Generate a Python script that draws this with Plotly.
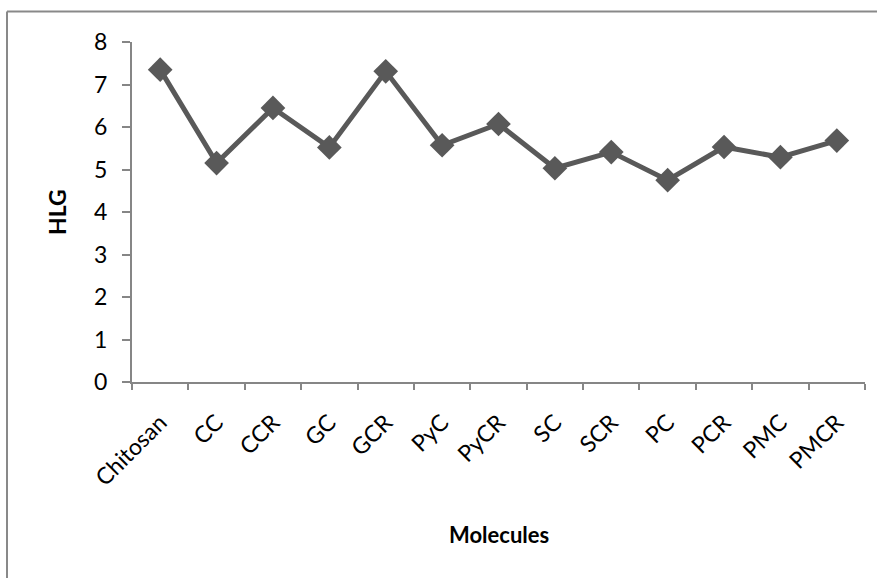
import plotly.graph_objects as go

molecules = ["Chitosan", "CC", "CCR", "GC", "GCR", "PyC", "PyCR", "SC", "SCR", "PC", "PCR", "PMC", "PMCR"]
hlg = [7.35, 5.15, 6.45, 5.52, 7.31, 5.57, 6.07, 5.03, 5.41, 4.75, 5.53, 5.29, 5.68]

W, H = 877, 578
L, R, T, B = 132, 12, 42, 196
pw = W - L - R
ph = H - T - B

axis_col = "#868686"
font_fam = "Lato, 'Open Sans', sans-serif"

fig = go.Figure()
fig.add_trace(go.Scatter(
    x=molecules, y=hlg, mode="lines+markers",
    line=dict(color="#595959", width=5),
    marker=dict(symbol="diamond", size=19, color="#595959"),
    showlegend=False,
))

fig.update_layout(
    width=W, height=H,
    margin=dict(l=L, r=R, t=T, b=B),
    paper_bgcolor="white", plot_bgcolor="white",
    font=dict(family=font_fam, color="black"),
    xaxis=dict(
        type="category", range=[-0.5, len(molecules) - 0.5],
        showline=True, linecolor=axis_col, linewidth=2,
        ticks="outside", tickson="boundaries", ticklen=6, tickcolor=axis_col, tickwidth=2,
        tickangle=-45, tickfont=dict(size=23, family=font_fam),
        ticklabelstandoff=16,
        showgrid=False, zeroline=False,
    ),
    yaxis=dict(
        range=[0, 8], dtick=1,
        showline=True, linecolor=axis_col, linewidth=2,
        ticks="outside", ticklen=8, tickcolor=axis_col, tickwidth=2,
        tickfont=dict(size=23, family=font_fam),
        ticklabelstandoff=10,
        showgrid=False, zeroline=False,
    ),
    annotations=[
        dict(text="<b>Molecules</b>", xref="paper", yref="paper",
             x=0.5, y=(382.5 - 535) / ph, xanchor="center", yanchor="middle",
             showarrow=False, font=dict(size=22, family=font_fam)),
        dict(text="<b>HLG</b>", xref="paper", yref="paper",
             x=(57 - L) / pw, y=0.5, xanchor="center", yanchor="middle",
             showarrow=False, textangle=-90, font=dict(size=23, family=font_fam)),
    ],
    shapes=[
        dict(type="line", xref="paper", yref="paper",
             x0=(7 - L) / pw, x1=(7 - L) / pw, y0=(382.5 - 12) / ph, y1=(382.5 - 590) / ph,
             line=dict(color="#898989", width=2)),
        dict(type="line", xref="paper", yref="paper",
             x0=(7 - L) / pw, x1=(890 - L) / pw, y0=(382.5 - 12) / ph, y1=(382.5 - 12) / ph,
             line=dict(color="#898989", width=2)),
    ],
)

fig.write_html("out.html")
